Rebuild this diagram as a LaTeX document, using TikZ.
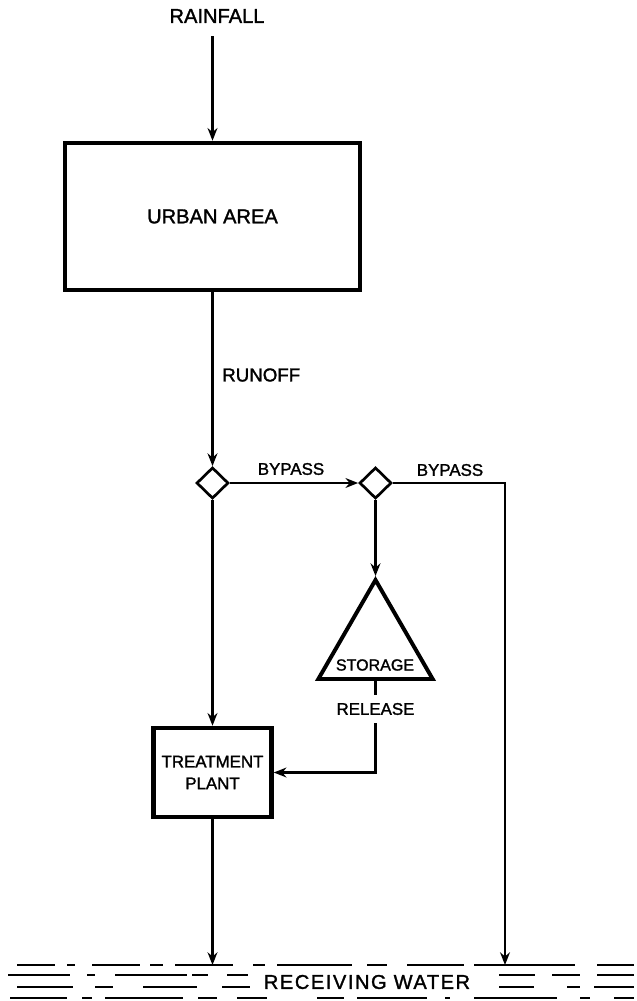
\documentclass[tikz,border=0pt]{standalone}
\usepackage{fontspec}
\usepackage{tikz}
\usetikzlibrary{arrows.meta,shapes.geometric}
\newfontfamily\lettering[FakeBold=1.5]{Liberation Sans}
\newfontfamily\wideletter[LetterSpace=8,FakeBold=1.5]{Liberation Sans}

\begin{document}
\begin{tikzpicture}[x=0.025cm, y=-0.025cm,
    box/.style={rectangle, draw, line width=3.2pt, align=center, inner sep=0pt},
    junc/.style={diamond, draw, line width=1.9pt, minimum width=0.8cm,
                 minimum height=0.78cm, inner sep=0pt},
    arr/.style={-{Stealth[length=9pt,width=7pt]}, line width=1.8pt},
    ln/.style={line width=1.8pt},
    big/.style={font=\lettering\fontsize{14.3pt}{16pt}\selectfont},
    lbl/.style={font=\lettering\fontsize{12pt}{15.5pt}\selectfont, inner sep=0pt},
    water/.style={line width=1.3pt}]

    \useasboundingbox (0,0) rectangle (637,1001);

    \node[big] (rain) at (217,16) {RAINFALL};
    \node[box, big, minimum width=7.375cm, minimum height=3.675cm] (urban) at (212.5,216.5) {URBAN AREA};
    \node[lbl, anchor=west, font=\lettering\fontsize{13.3pt}{15pt}\selectfont] (runoff) at (222,375) {RUNOFF};

    \node[junc] (d1) at (212.5,483) {};
    \node[junc] (d2) at (375.5,483) {};
    \node[lbl] (bp1) at (291,469) {BYPASS};
    \node[lbl] (bp2) at (450,470) {BYPASS};

    \node[regular polygon, regular polygon sides=3, draw, line width=2.8pt,
          minimum size=3.3cm, inner sep=0pt] (storage) at (375.5,646) {};
    \node[lbl, font=\lettering\fontsize{11.4pt}{13pt}\selectfont] (storetxt) at (375,665) {STORAGE};
    \node[lbl, minimum height=0.7cm] (release) at (375.5,709) {RELEASE};

    \node[box, lbl, minimum width=2.95cm, minimum height=2.225cm] (plant) at (212.5,772.5) {TREATMENT\\PLANT};

    \node[font=\wideletter\fontsize{14.2pt}{16pt}\selectfont] (water) at (367,982) {RECEIVING WATER};
    \coordinate (w1) at (212.5,965);
    \coordinate (w2) at (505,965);

    % flow lines
    \draw[arr, shorten <=6pt] (rain.south -| urban.north) -- (urban.north);
    \draw[arr] (urban.south) -- (d1.north);
    \draw[arr] (d1.east) -- (d2.west);
    \draw[arr] (d2.east) -| (w2);
    \draw[arr] (d2.south) -- (storage.north);
    \draw[ln] (storage.south) -- (release.north);
    \draw[arr] (release.south) |- (plant.east);
    \draw[arr] (d1.south) -- (plant.north);
    \draw[arr] (plant.south) -- (w1);

    % water surface
    \foreach \a/\b in {17/55, 67/75, 92/140, 150/163, 175/233, 253/265, 277/352,
                       367/387, 407/464, 474/575, 597/634}
        \draw[water] (\a,965) -- (\b,965);
    \foreach \a/\b in {8/70, 87/95, 115/187, 192/208, 227/248, 499/535, 552/580, 597/634}
        \draw[water] (\a,975) -- (\b,975);
    \foreach \a/\b in {17/73, 95/113, 143/197, 222/250, 499/534, 567/580, 594/634}
        \draw[water] (\a,987) -- (\b,987);
    \foreach \a/\b in {10/67, 82/92, 105/183, 198/217, 237/267, 317/344, 357/427,
                       445/450, 474/557, 580/590, 614/634}
        \draw[water] (\a,998) -- (\b,998);

\end{tikzpicture}
\end{document}
